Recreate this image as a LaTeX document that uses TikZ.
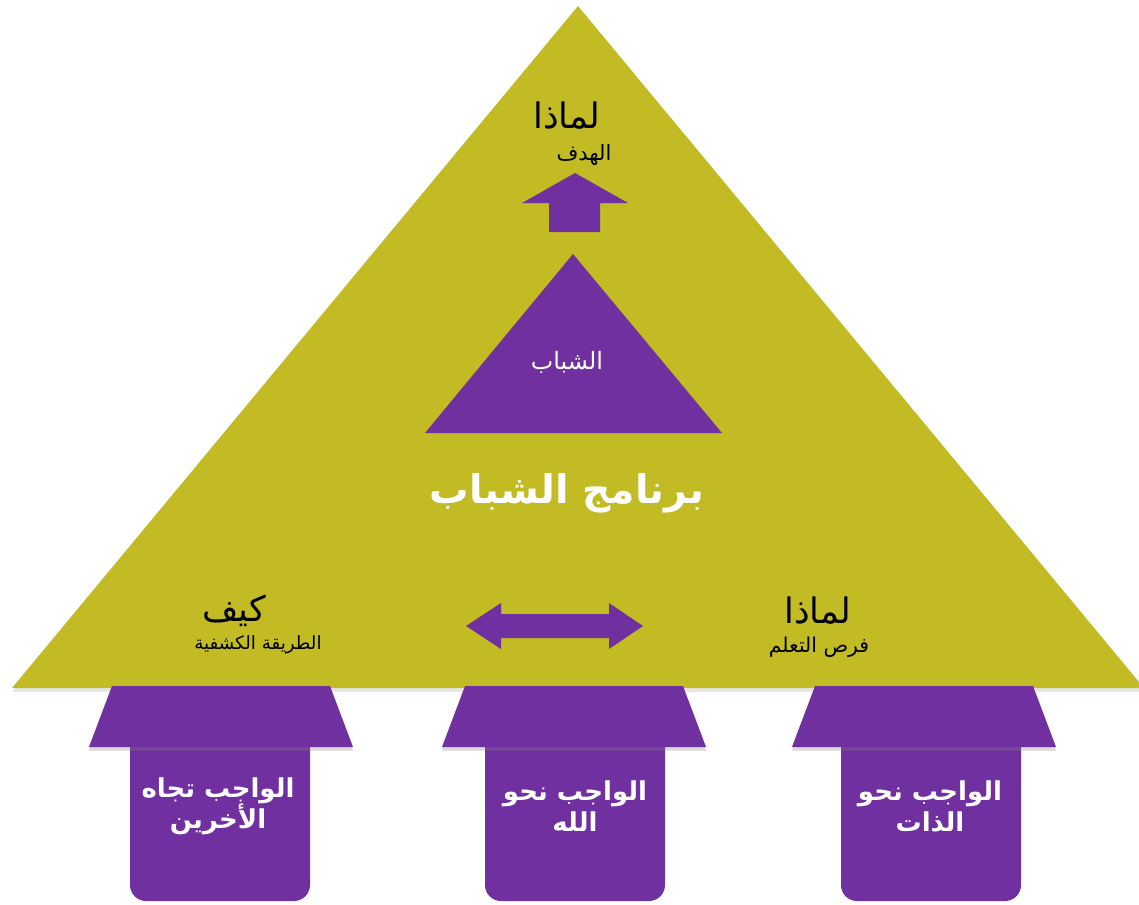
\documentclass[tikz,border=0pt]{standalone}
\usepackage{fontspec}
\usetikzlibrary{shadows}
\TeXXeTstate=1
\newfontfamily\arabicfont[Script=Arabic]{DejaVu Sans}
\definecolor{pyramidgold}{HTML}{C2BB23}
\definecolor{scoutpurple}{HTML}{7030A0}
\newcommand{\rtl}[1]{\beginR #1\endR}
\tikzset{
  pyramid/.style={fill=pyramidgold, drop shadow={shadow xshift=0pt, shadow yshift=-3pt, opacity=0.2}},
  block/.style={fill=scoutpurple},
  roof/.style={block, drop shadow={shadow xshift=0pt, shadow yshift=-2.5pt, opacity=0.3}},
  heading/.style={font=\arabicfont\fontsize{25}{29}\selectfont, text=black},
  subheading/.style={font=\arabicfont\fontsize{13}{15}\selectfont, text=black},
  duty/.style={font=\arabicfont\bfseries\fontsize{18.5}{22}\selectfont, text=white, align=center},
  every node/.style={inner sep=0}
}

\begin{document}
\begin{tikzpicture}[x=0.025cm, y=-0.025cm]
  \clip (0,0) rectangle (1139,904);
  % the big pyramid
  \fill[pyramid] (578,6) -- (1144,688) -- (12,688) -- cycle;
  % arrow up to the goal
  \fill[block] (575,173) -- (628,203) -- (600,203) -- (600,232) -- (549,232) -- (549,203) -- (522,203) -- cycle;
  % inner triangle
  \fill[block] (573,254) -- (722,433) -- (425,433) -- cycle;
  % two-way arrow
  \fill[block] (466,626) -- (501,603) -- (501,614) -- (609,614) -- (609,603) -- (643,626)
    -- (609,649) -- (609,638) -- (501,638) -- (501,649) -- cycle;
  % the three pillars
  \foreach \t/\r in {221/220, 574/575, 924/931} {
    \fill[block, rounded corners=0.4cm] (\r-90,727) rectangle (\r+90,901);
    \fill[roof] (\t-109,686) -- (\t+109,686) -- (\t+132,747) -- (\t-132,747) -- cycle;
  }

  \node[heading] (goalq) at (567,116) {\rtl{لماذا}};
  \node[subheading, font=\arabicfont\fontsize{15}{17}\selectfont] (goal) at (584,155) {\rtl{الهدف}};
  \node[font=\arabicfont\fontsize{17}{19}\selectfont, text=white] (youth) at (567,362) {\rtl{الشباب}};
  \node[font=\arabicfont\bfseries\fontsize{28}{32}\selectfont, text=white] (programme) at (567,493) {\rtl{برنامج الشباب}};
  \node[heading] (howq) at (234,611) {\rtl{كيف}};
  \node[subheading] (how) at (258,645) {\rtl{الطريقة الكشفية}};
  \node[heading] (whyq) at (818,611) {\rtl{لماذا}};
  \node[subheading, font=\arabicfont\fontsize{14.5}{17}\selectfont] (why) at (819,647) {\rtl{فرص التعلم}};

  \node[duty] (others) at (218,806) {\rtl{الواجب تجاه}\\\rtl{الأخرين}};
  \node[duty] (god) at (575,806) {\rtl{الواجب نحو}\\\rtl{الله}};
  \node[duty] (self) at (930,806) {\rtl{الواجب نحو}\\\rtl{الذات}};
\end{tikzpicture}
\end{document}
